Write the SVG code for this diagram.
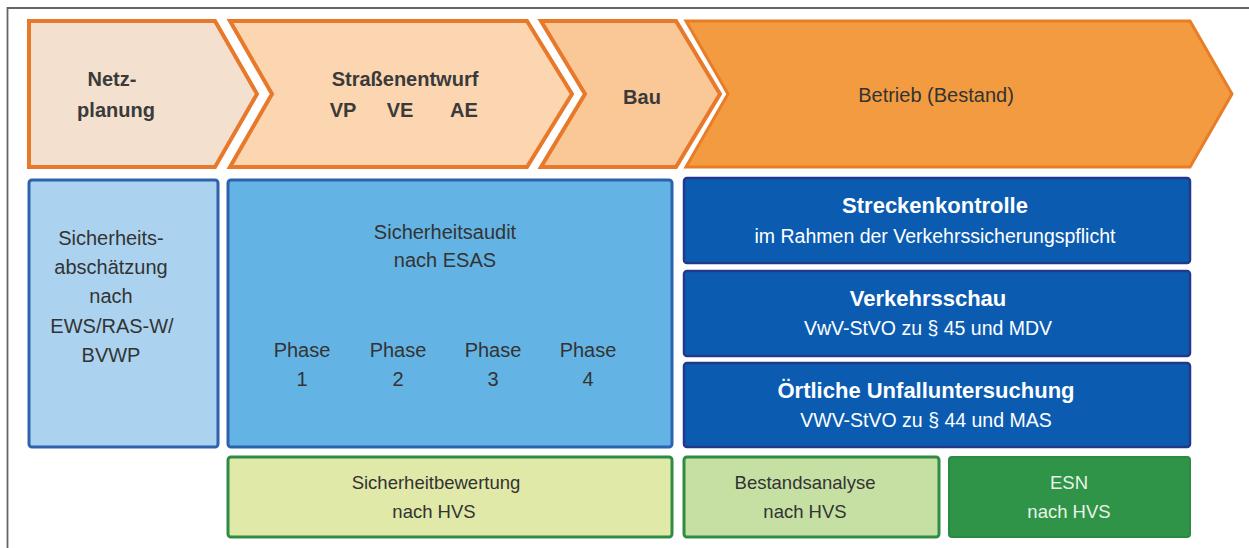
<svg xmlns="http://www.w3.org/2000/svg" width="1249" height="548" viewBox="0 0 1249 548">
<style>
text{font-family:"Liberation Sans",Arial,sans-serif;text-anchor:middle}
.chev{stroke:#e8792a;stroke-width:4;stroke-linejoin:miter}
.cl{font-size:20px;font-weight:bold;fill:#3a3a3a}
.bl{font-size:20px;fill:#333}
.box{stroke-width:3}
.db{fill:#0b5cb1;stroke:#22398b;stroke-width:2.5}
.dh{font-size:22px;font-weight:bold;fill:#fff}
.ds{font-size:19.5px;fill:#fff}
.gt{font-size:18.5px;fill:#333}
</style>
<rect width="1249" height="548" fill="#fff"/>
<path d="M7.5,548 V8 H1249" fill="none" stroke="#666" stroke-width="1.8"/>
<g id="netzplanung">
<path class="chev" d="M29,21 H215 L257,94 L215,167 H29 Z" fill="#f3e0cf"/>
<text class="cl" x="112" y="86">Netz-</text>
<text class="cl" x="116" y="117">planung</text>
</g>
<g id="strassenentwurf">
<path class="chev" d="M230,21 H527 L572,94 L527,167 H230 L272,94 Z" fill="#fbd6b0"/>
<text class="cl" x="405" y="86">Straßenentwurf</text>
<text class="cl" x="343" y="117">VP</text>
<text class="cl" x="400" y="117">VE</text>
<text class="cl" x="464" y="117">AE</text>
</g>
<g id="bau">
<path class="chev" d="M541,21 H676 L720,94 L676,167 H541 L585,94 Z" fill="#f9c896"/>
<text class="cl" x="642" y="104">Bau</text>
</g>
<g id="betrieb">
<path d="M686,21 H1190 L1232,94 L1190,167 H686 L728,94 Z" fill="#f39b40" stroke="#e97d25" stroke-width="3"/>
<text x="936" y="102" style="font-size:20px;fill:#333">Betrieb (Bestand)</text>
</g>
<g id="sicherheitsabschaetzung">
<rect class="box" x="29" y="180" width="189" height="267" rx="3" fill="#abd3f0" stroke="#2f62ad"/>
<text class="bl" x="111" y="245">Sicherheits-</text>
<text class="bl" x="111" y="274">abschätzung</text>
<text class="bl" x="111" y="303">nach</text>
<text class="bl" x="112" y="333">EWS/RAS-W/</text>
<text class="bl" x="111" y="362">BVWP</text>
</g>
<g id="sicherheitsaudit">
<rect class="box" x="228" y="180" width="444" height="267" rx="3" fill="#63b3e4" stroke="#2b63ae"/>
<text class="bl" x="445" y="239">Sicherheitsaudit</text>
<text class="bl" x="445" y="267">nach ESAS</text>
<text class="bl" x="302" y="357">Phase</text>
<text class="bl" x="302" y="386">1</text>
<text class="bl" x="398" y="357">Phase</text>
<text class="bl" x="398" y="386">2</text>
<text class="bl" x="493" y="357">Phase</text>
<text class="bl" x="493" y="386">3</text>
<text class="bl" x="588" y="357">Phase</text>
<text class="bl" x="588" y="386">4</text>
</g>
<g id="streckenkontrolle">
<rect class="db" x="684" y="178" width="506" height="85" rx="3"/>
<text class="dh" x="935" y="213">Streckenkontrolle</text>
<text class="ds" x="935" y="243">im Rahmen der Verkehrssicherungspflicht</text>
</g>
<g id="verkehrsschau">
<rect class="db" x="684" y="271" width="506" height="85" rx="3"/>
<text class="dh" x="928" y="306">Verkehrsschau</text>
<text class="ds" x="928" y="335">VwV-StVO zu § 45 und MDV</text>
</g>
<g id="unfalluntersuchung">
<rect class="db" x="684" y="363" width="506" height="84" rx="3"/>
<text class="dh" x="926" y="398">Örtliche Unfalluntersuchung</text>
<text class="ds" x="926" y="427">VWV-StVO zu § 44 und MAS</text>
</g>
<g id="sicherheitbewertung">
<rect class="box" x="228" y="457" width="444" height="80" rx="3" fill="#e0e9a8" stroke="#2e8c45"/>
<text class="gt" x="436" y="489">Sicherheitbewertung</text>
<text class="gt" x="434" y="518">nach HVS</text>
</g>
<g id="bestandsanalyse">
<rect class="box" x="684" y="457" width="255" height="80" rx="3" fill="#c6e0a3" stroke="#2e8c45"/>
<text class="gt" x="805" y="489">Bestandsanalyse</text>
<text class="gt" x="805" y="518">nach HVS</text>
</g>
<g id="esn">
<rect x="949" y="457" width="241" height="80" rx="3" fill="#2f9447" stroke="#2b8a42" stroke-width="2"/>
<text class="gt" x="1069" y="489" style="fill:#e8f3e6">ESN</text>
<text class="gt" x="1069" y="518" style="fill:#e8f3e6">nach HVS</text>
</g>
<g id="connectors"/>
</svg>
